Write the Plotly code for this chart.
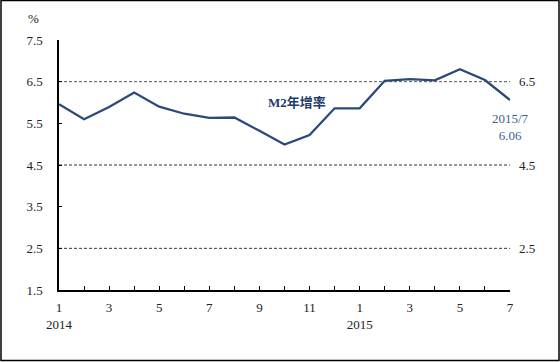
import plotly.graph_objects as go

months = ["1", "2", "3", "4", "5", "6", "7", "8", "9", "10", "11", "12",
          "1", "2", "3", "4", "5", "6", "7"]
years = {0: "2014", 12: "2015"}
m2_growth = [5.96, 5.60, 5.89, 6.24, 5.90, 5.73, 5.63, 5.64, 5.32, 4.99, 5.22, 5.86,
             5.86, 6.52, 6.56, 6.53, 6.80, 6.54, 6.06]
ref_levels = [2.5, 4.5, 6.5]
y_ticks = [1.5, 2.5, 3.5, 4.5, 5.5, 6.5, 7.5]

x = list(range(len(months)))
ticktext = []
for i, m in enumerate(months):
    if i % 2 == 0:
        ticktext.append(m + ("<br>" + years[i] if i in years else ""))
    else:
        ticktext.append("")

serif = "Liberation Serif, Times New Roman, serif"
fig = go.Figure()
for lv in ref_levels:
    fig.add_trace(go.Scatter(x=[x[0], x[-1]], y=[lv, lv], mode="lines",
                             line=dict(color="#555555" if lv == 6.5 else "#333333",
                                       width=1, dash="3px,2px"),
                             hoverinfo="skip", showlegend=False))
fig.add_trace(go.Scatter(x=x, y=m2_growth, mode="lines",
                         line=dict(color="#2b4a7c", width=2.3), showlegend=False))

annotations = []
for lv in ref_levels:
    annotations.append(dict(x=1, y=lv, xref="paper", yref="y", text=f"{lv}",
                            showarrow=False, xanchor="left", xshift=7,
                            font=dict(family=serif, size=13, color="#222")))
annotations.append(dict(x=9.5, y=6.0, xref="x", yref="y", text="<b>M2年增率</b>",
                        showarrow=False,
                        font=dict(family="Liberation Serif, Noto Sans CJK TC", size=13,
                                  color="#1f3b6b")))
annotations.append(dict(x=x[-1], y=m2_growth[-1], xref="x", yref="y",
                        text=f"2015/7<br>{m2_growth[-1]:.2f}", showarrow=False,
                        yanchor="top", yshift=-9,
                        font=dict(family=serif, size=13, color="#3e5f93")))
annotations.append(dict(x=-26 / 451, y=(290 - 19) / 250, xref="paper", yref="paper",
                        text="%", showarrow=False, xanchor="center", yanchor="middle",
                        font=dict(family=serif, size=13, color="#222")))

fig.update_layout(
    width=560, height=362,
    margin=dict(l=59, r=50, t=40, b=72),
    plot_bgcolor="white", paper_bgcolor="white",
    annotations=annotations,
    shapes=[dict(type="rect", xref="paper", yref="paper",
                 x0=(1 - 59) / 451, x1=(559 - 59) / 451,
                 y0=(290 - 360.5) / 250, y1=(290 - 0.5) / 250,
                 line=dict(color="black", width=1.5))],
    xaxis=dict(range=[0, 18], tickvals=x, ticktext=ticktext, showgrid=False,
               zeroline=False, showline=True, linecolor="black", linewidth=1.5,
               ticks="inside", ticklen=4, tickcolor="black", ticklabelstandoff=5,
               tickfont=dict(family=serif, size=13, color="#222")),
    yaxis=dict(range=[1.5, 7.5], tickvals=y_ticks, ticktext=[f"{v}" for v in y_ticks],
               showgrid=False, zeroline=False, showline=True, linecolor="black",
               linewidth=1.5, ticks="inside", ticklen=3, tickcolor="black",
               ticklabelstandoff=12,
               tickfont=dict(family=serif, size=13, color="#222")),
)
fig.write_html("out.html", config={"displayModeBar": False},
               post_script="document.body.style.margin='0';document.body.style.overflow='hidden';")
